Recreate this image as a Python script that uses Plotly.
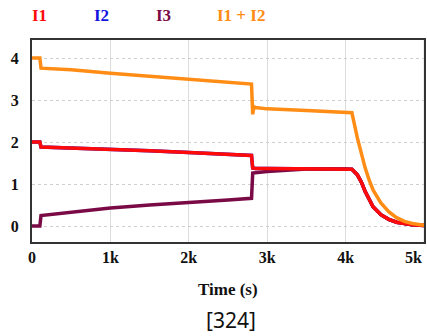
import plotly.graph_objects as go

# Time samples (s) and currents (A)
t_i1 = [0, 100, 115, 500, 1000, 1500, 2000, 2500, 2800, 2815, 2850, 3000, 3500, 4000, 4080,
        4150, 4200, 4250, 4300, 4350, 4450, 4550, 4650, 4750, 4850, 5000]
i1 = [2.0, 2.0, 1.88, 1.86, 1.83, 1.79, 1.75, 1.71, 1.68, 1.38, 1.37, 1.37, 1.36, 1.36, 1.35,
      1.22, 1.05, 0.82, 0.62, 0.46, 0.27, 0.16, 0.09, 0.05, 0.03, 0.01]
i2 = list(i1)

t_i3 = [0, 100, 115, 500, 1000, 1500, 2000, 2500, 2800, 2815, 3000, 3200, 3410, 3500, 4000, 4080,
        4150, 4200, 4250, 4300, 4350, 4450, 4550, 4650, 4750, 4850, 5000]
i3 = [0.0, 0.0, 0.25, 0.33, 0.43, 0.50, 0.57, 0.62, 0.66, 1.26, 1.30, 1.33, 1.36, 1.36, 1.36, 1.35,
      1.22, 1.05, 0.82, 0.62, 0.46, 0.27, 0.16, 0.09, 0.05, 0.03, 0.01]

t_sum = [0, 100, 115, 500, 1000, 1500, 2000, 2500, 2800, 2815, 2830, 2850, 3000, 3500, 4000, 4080,
         4150, 4200, 4250, 4300, 4350, 4450, 4550, 4650, 4750, 4850, 4950, 5000]
i_sum = [4.0, 4.0, 3.76, 3.72, 3.64, 3.57, 3.50, 3.42, 3.38, 2.66, 2.84, 2.82, 2.79, 2.75, 2.71, 2.70,
         2.10, 1.70, 1.38, 1.10, 0.86, 0.55, 0.34, 0.20, 0.11, 0.06, 0.03, 0.02]

x_ticks = [0, 1000, 2000, 3000, 4000, 5000]
x_labels = ["0", "1k", "2k", "3k", "4k", "5k"]
y_ticks = [0, 1, 2, 3, 4]

names = ["I1", "I2", "I3", "I1 + I2"]
colors = {"I1": "#ff0a0a", "I2": "#1414e0", "I3": "#7a0a45", "I1 + I2": "#ff8c14"}

fig = go.Figure()
lw = 3.5
fig.add_trace(go.Scatter(x=t_i1, y=i2, mode="lines", name="I2",
                         line=dict(color=colors["I2"], width=lw)))
fig.add_trace(go.Scatter(x=t_i3, y=i3, mode="lines", name="I3",
                         line=dict(color=colors["I3"], width=lw)))
fig.add_trace(go.Scatter(x=t_i1, y=i1, mode="lines", name="I1",
                         line=dict(color=colors["I1"], width=lw)))
fig.add_trace(go.Scatter(x=t_sum, y=i_sum, mode="lines", name="I1 + I2",
                         line=dict(color=colors["I1 + I2"], width=lw)))

serif = "Liberation Serif"
legend_x = [39, 101, 163, 241]
for nm, px in zip(names, legend_x):
    fig.add_annotation(text="<b>%s</b>" % nm, x=(px - 32) / 392, y=1 + (40 - 16) / 202,
                       xref="paper", yref="paper", showarrow=False,
                       xanchor="center", yanchor="middle",
                       font=dict(family=serif, size=17, color=colors[nm]))

# last x tick label sits right-aligned at the plot edge
fig.add_annotation(text="<b>%s</b>" % x_labels[-1], x=x_ticks[-1], y=-(257 - 242) / 202,
                   xref="x", yref="paper", showarrow=False, xanchor="right", yanchor="middle",
                   font=dict(family=serif, size=16, color="#111"))

fig.add_annotation(text="<b>Time (s)</b>", x=0.5, y=-(289 - 242) / 202, xref="paper", yref="paper",
                   showarrow=False, xanchor="center", yanchor="middle",
                   font=dict(family=serif, size=17, color="#111"))
fig.add_annotation(text="[324]", x=(231 - 32) / 392, y=-(320 - 242) / 202, xref="paper", yref="paper",
                   showarrow=False, xanchor="center", yanchor="middle",
                   font=dict(family="Noto Sans", size=21, color="#111"))

fig.update_layout(
    width=427, height=336,
    margin=dict(l=32, r=3, t=40, b=94, autoexpand=False),
    paper_bgcolor="white", plot_bgcolor="white",
    showlegend=False,
    xaxis=dict(range=[0, 5000], tickvals=x_ticks[:-1], ticktext=x_labels[:-1],
               automargin=False,
               showgrid=True, gridcolor="#dcdcdc", gridwidth=1,
               showline=True, linecolor="#333", linewidth=2, mirror=True,
               zeroline=False, ticks="", ticklen=0, ticklabelstandoff=0,
               tickfont=dict(family=serif, size=16, color="#111", weight="bold")),
    yaxis=dict(range=[-0.38, 4.43], tickvals=y_ticks,
               automargin=False,
               showgrid=True, gridcolor="#cfcfcf", gridwidth=1, griddash="dot",
               showline=True, linecolor="#333", linewidth=2, mirror=True,
               zeroline=False, ticks="", ticklen=0, ticklabelstandoff=8,
               tickfont=dict(family=serif, size=16, color="#111", weight="bold")),
)
fig.add_vline(x=x_ticks[-1], line=dict(color="#dcdcdc", width=1), layer="below")

fig.write_html("out.html", config={"displayModeBar": False},
               post_script="document.body.style.margin='0';document.body.style.padding='0';")
